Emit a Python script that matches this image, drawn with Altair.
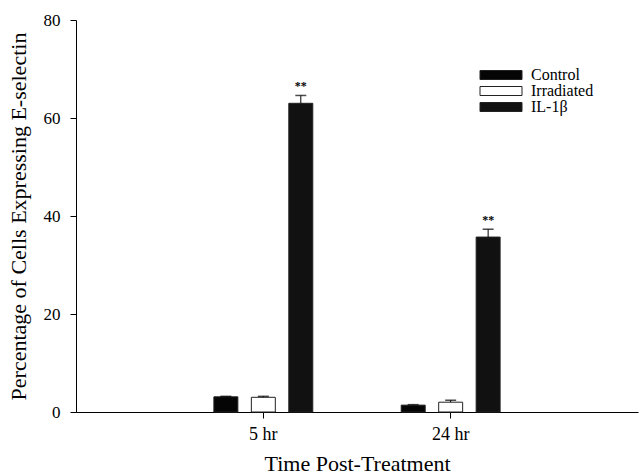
import altair as alt
import pandas as pd

times = ["5 hr", "5 hr", "5 hr", "24 hr", "24 hr", "24 hr"]
groups = ["Control", "Irradiated", "IL-1β", "Control", "Irradiated", "IL-1β"]
values = [3.1, 3.0, 63.0, 1.4, 2.0, 35.7]
errors = [0.1, 0.2, 1.6, 0.1, 0.4, 1.6]
stars = ["", "", "**", "", "", "**"]

group_order = ["Control", "Irradiated", "IL-1β"]
time_order = ["5 hr", "24 hr"]
fills = ["#050505", "#ffffff", "#111111"]

df = pd.DataFrame({
    "Time": times,
    "Group": groups,
    "Value": values,
    "Upper": [v + e for v, e in zip(values, errors)],
    "Star": stars,
})

FONT = "Liberation Serif"

x = alt.X("Time:N", sort=time_order,
          scale=alt.Scale(paddingInner=0.4, paddingOuter=0.7),
          axis=alt.Axis(title="Time Post-Treatment", labelAngle=0, tickSize=6,
                        labelFontSize=18, titleFontSize=22, labelPadding=7,
                        titlePadding=10))
xo = alt.XOffset("Group:N", sort=group_order,
                 scale=alt.Scale(paddingInner=0.36, paddingOuter=0.18))

bars = alt.Chart(df).mark_bar(stroke="#222", strokeWidth=1).encode(
    x=x,
    xOffset=xo,
    y=alt.Y("Value:Q", scale=alt.Scale(domain=[0, 80], nice=False),
            axis=alt.Axis(title="Percentage of Cells Expressing E-selectin",
                          values=[0, 20, 40, 60, 80], tickSize=6,
                          labelFontSize=17, titleFontSize=22, labelPadding=10,
                          titlePadding=13)),
    fill=alt.Fill("Group:N", sort=group_order,
                  scale=alt.Scale(domain=group_order, range=fills),
                  legend=alt.Legend(title=None, orient="none", legendX=434,
                                    legendY=47, symbolType="M-7.6,-0.9H0.8V0.9H-7.6Z",
                                    symbolSize=100, symbolStrokeColor="#222",
                                    symbolStrokeWidth=1, labelFontSize=16,
                                    labelFont=FONT, labelColor="black",
                                    labelOffset=5, rowPadding=-2, padding=0)),
)

err = alt.Chart(df).mark_rule(color="black", strokeWidth=1).encode(
    x=x, xOffset=xo, y="Value:Q", y2="Upper:Q"
)

caps = alt.Chart(df).mark_tick(color="black", thickness=1.5, size=11).encode(
    x=x, xOffset=xo, y="Upper:Q"
)

txt = alt.Chart(df).mark_text(fontSize=12, dy=-9, font=FONT, fontWeight="bold").encode(
    x=x, xOffset=xo, y="Upper:Q", text="Star:N"
)

chart = alt.layer(bars, err, caps, txt).properties(
    width=562, height=392,
    autosize=alt.AutoSizeParams(type="none"),
    padding={"left": 76, "top": 20, "right": 3, "bottom": 63},
).configure(font=FONT).configure_view(stroke=None).configure_axis(
    grid=False, domainColor="black", tickColor="black", labelColor="black",
    titleColor="black", labelFont=FONT, titleFont=FONT, titleFontWeight="normal",
    domainWidth=1, tickWidth=1,
).configure_legend(labelFont=FONT, labelColor="black")

chart.save("out.html", embed_options={"renderer": "svg", "actions": False})
